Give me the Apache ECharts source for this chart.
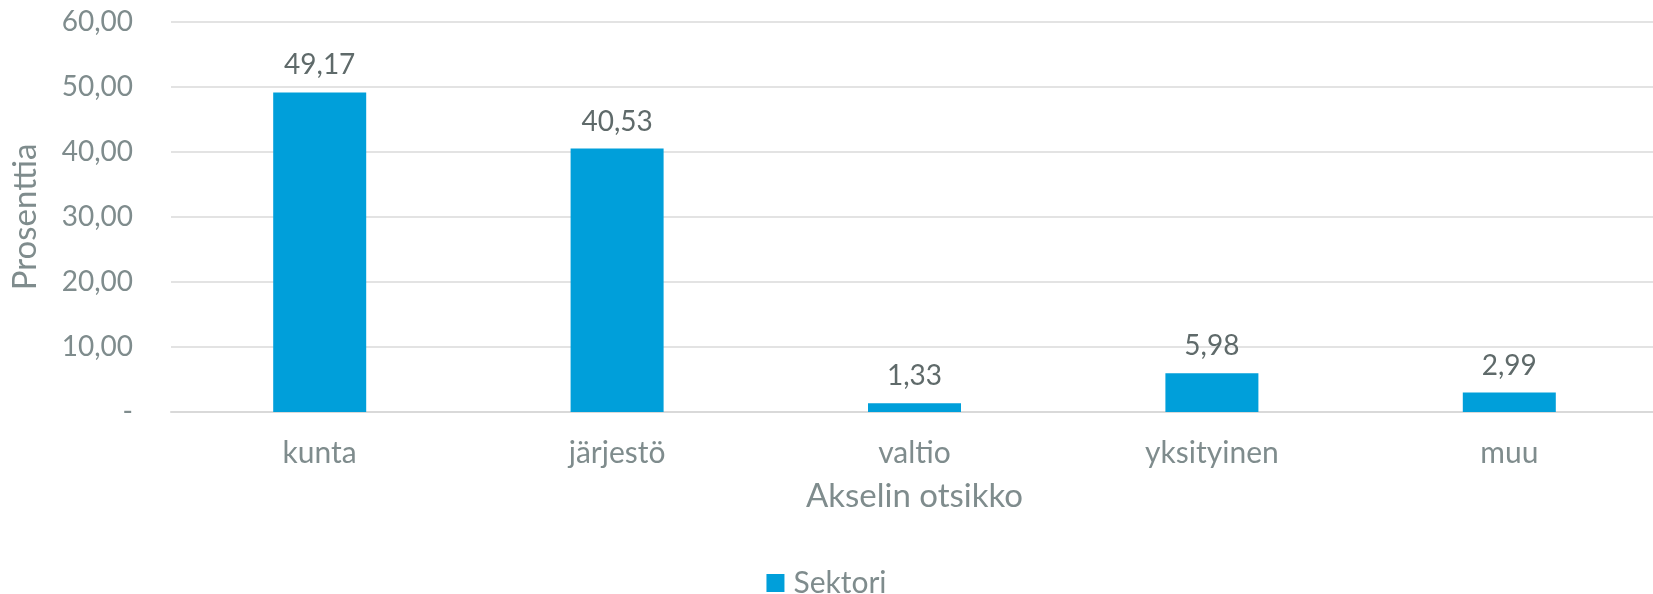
<!DOCTYPE html>
<html>
<head>
<meta charset="utf-8">
<title>Sektori</title>
<script src="https://cdn.jsdelivr.net/npm/echarts@6.0.0/dist/echarts.min.js"></script>
<style>
  html, body { margin: 0; padding: 0; background: #fff; }
  #main { width: 1653px; height: 594px; }
</style>
</head>
<body>
<div id="main"></div>
<script>
// data
var categories = ['kunta', 'järjestö', 'valtio', 'yksityinen', 'muu'];
var sektori = [49.17, 40.53, 1.33, 5.98, 2.99];
var seriesName = 'Sektori';
var xTitle = 'Akselin otsikko';
var yTitle = 'Prosenttia';

var grey = '#7f8c8d';
var font = 'Lato';

// 12.5 -> "12,50", 0 -> "-"
function fi(v) {
  if (v === 0) return '-';
  return v.toFixed(2).replace('.', ',');
}

var chart = echarts.init(document.getElementById('main'));
chart.setOption({
  animation: false,
  textStyle: { fontFamily: font },
  legend: {
    data: [seriesName],
    top: 563,
    left: 'center',
    itemWidth: 18,
    itemHeight: 18,
    icon: 'rect',
    textStyle: { color: grey, fontSize: 30, fontFamily: font, padding: [0, 0, 0, 4] }
  },
  grid: {
    left: 171,
    right: -5,
    top: 22,
    bottom: 182,
    containLabel: false,
    outerBoundsMode: 'none'
  },
  xAxis: {
    type: 'category',
    data: categories,
    name: xTitle,
    nameLocation: 'middle',
    nameGap: 68,
    nameTextStyle: { color: grey, fontSize: 33, fontFamily: font },
    axisLine: { lineStyle: { color: '#d9d9d9', width: 2 } },
    axisTick: { show: false },
    axisLabel: { color: grey, fontSize: 30, margin: 26, fontFamily: font }
  },
  yAxis: {
    type: 'value',
    min: 0,
    max: 60,
    interval: 10,
    name: yTitle,
    nameLocation: 'middle',
    nameGap: 129,
    nameTextStyle: { color: grey, fontSize: 33, fontFamily: font },
    axisLine: { show: false },
    axisTick: { show: false },
    axisLabel: { color: grey, fontSize: 28, margin: 38, fontFamily: font, formatter: fi },
    splitLine: { lineStyle: { color: '#e3e3e3', width: 2 } }
  },
  series: [{
    name: seriesName,
    type: 'bar',
    data: sektori,
    barWidth: 93,
    itemStyle: { color: '#009fda' },
    label: {
      show: true,
      position: 'top',
      distance: 13,
      color: '#5f6a6a',
      fontSize: 28,
      fontFamily: font,
      formatter: function (p) { return fi(p.value); }
    }
  }]
});
</script>
</body>
</html>
